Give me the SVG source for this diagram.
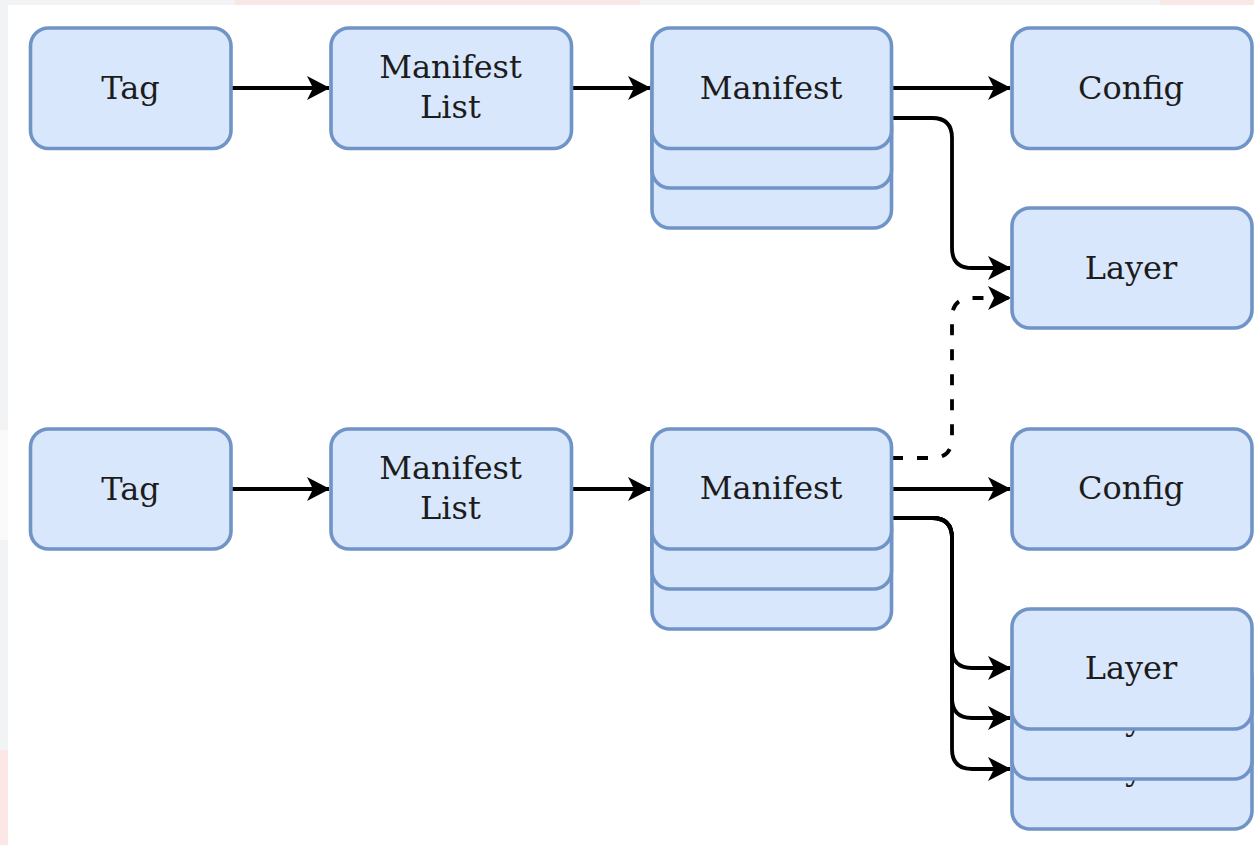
<svg xmlns="http://www.w3.org/2000/svg" width="1254" height="845" viewBox="0 0 1254 845">
<style>
.n{fill:#d8e7fb;stroke:#7094c6;stroke-width:3.6}
.t{font-family:"DejaVu Serif",serif;font-size:32px;fill:#1c1c1c;text-anchor:middle}
.c{fill:none;stroke:#000;stroke-width:3.8;stroke-linejoin:round}
.a{marker-end:url(#arr)}
.d{stroke-dasharray:11 14}
</style>
<defs>
<marker id="arr" markerUnits="userSpaceOnUse" markerWidth="26" markerHeight="26" refX="22" refY="12" orient="auto" overflow="visible">
<path d="M0 0L23 12L0 24L6 12Z" fill="#000"/>
</marker>
</defs>
<rect width="1254" height="845" fill="#f2f3f4"/>
<rect x="0" y="750" width="8" height="95" fill="#fbe7e5"/>
<rect x="0" y="430" width="8" height="110" fill="#fafafa"/>
<rect x="235" y="0" width="405" height="5" fill="#f8e8e5"/>
<rect x="1160" y="0" width="94" height="5" fill="#f9e8e5"/>
<rect x="8" y="5" width="1246" height="840" fill="#fff"/>
<g id="connectors">
<path class="c a" d="M232 88H329"/>
<path class="c a" d="M572 88H650"/>
<path class="c a" d="M892 88H1010"/>
<path class="c a" d="M892 118H932Q952 118 952 138V248Q952 268 972 268H1010"/>
<path class="c a d" d="M892 458H932Q952 458 952 438V318Q952 298 972 298H1010"/>
<path class="c a" d="M232 489H329"/>
<path class="c a" d="M572 489H650"/>
<path class="c a" d="M892 489H1010"/>
<path class="c a" d="M892 518H932Q952 518 952 538V648Q952 668 972 668H1010"/>
<path class="c a" d="M892 518H932Q952 518 952 538V698Q952 718 972 718H1010"/>
<path class="c a" d="M892 518H932Q952 518 952 538V749Q952 769 972 769H1010"/>
</g>
<g id="tag1"><rect class="n" x="30.500" y="28" width="200.500" height="120.500" rx="18"/><text class="t" x="130.500" y="99">Tag</text></g>
<g id="list1"><rect class="n" x="331" y="28" width="240.500" height="120.500" rx="18"/><text class="t" x="450.500" y="78">Manifest</text><text class="t" x="450.500" y="118">List</text></g>
<g id="manifest1">
<rect class="n" x="652" y="108" width="239.500" height="120" rx="18"/>
<rect class="n" x="652" y="68" width="239.500" height="120" rx="18"/>
<rect class="n" x="652" y="28" width="239.500" height="120.500" rx="18"/>
<text class="t" x="771" y="99">Manifest</text></g>
<g id="config1"><rect class="n" x="1012" y="28" width="240" height="120.500" rx="18"/><text class="t" x="1131" y="99">Config</text></g>
<g id="layer1"><rect class="n" x="1012" y="208" width="240" height="120" rx="18"/><text class="t" x="1131" y="279">Layer</text></g>
<g id="tag2"><rect class="n" x="30.500" y="429" width="200.500" height="120" rx="18"/><text class="t" x="130.500" y="500">Tag</text></g>
<g id="list2"><rect class="n" x="331" y="429" width="240.500" height="120" rx="18"/><text class="t" x="450.500" y="479">Manifest</text><text class="t" x="450.500" y="519">List</text></g>
<g id="manifest2">
<rect class="n" x="652" y="509" width="239.500" height="120" rx="18"/>
<rect class="n" x="652" y="469" width="239.500" height="120" rx="18"/>
<rect class="n" x="652" y="429" width="239.500" height="120" rx="18"/>
<text class="t" x="771" y="499">Manifest</text></g>
<g id="config2"><rect class="n" x="1012" y="429" width="240" height="120" rx="18"/><text class="t" x="1131" y="499">Config</text></g>
<g id="layer2c"><rect class="n" x="1012" y="709" width="240" height="120" rx="18"/><text class="t" x="1131" y="780">Layer</text></g>
<g id="layer2b"><rect class="n" x="1012" y="659" width="240" height="120" rx="18"/><text class="t" x="1131" y="730">Layer</text></g>
<g id="layer2a"><rect class="n" x="1012" y="609" width="240" height="120" rx="18"/><text class="t" x="1131" y="679">Layer</text></g>
</svg>
